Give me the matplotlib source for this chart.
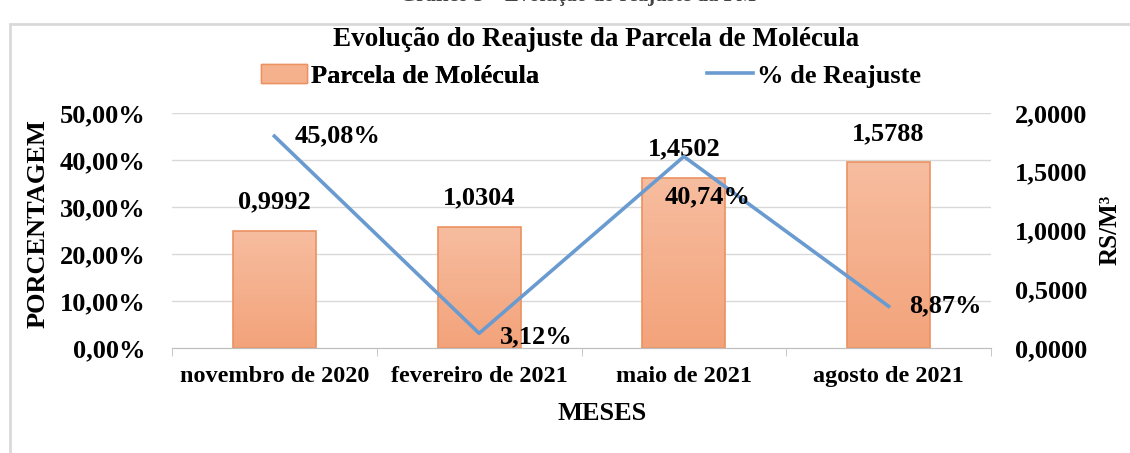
import matplotlib
matplotlib.use("Agg")
import matplotlib.pyplot as plt
import numpy as np
from matplotlib.patches import Rectangle
from matplotlib.lines import Line2D
from matplotlib.patches import Patch

categories = ["novembro de 2020", "fevereiro de 2021", "maio de 2021", "agosto de 2021"]
parcela = [0.9992, 1.0304, 1.4502, 1.5788]
reajuste = [45.08, 3.12, 40.74, 8.87]
parcela_labels = ["0,9992", "1,0304", "1,4502", "1,5788"]
reajuste_labels = ["45,08%", "3,12%", "40,74%", "8,87%"]
left_ticks = [0, 10, 20, 30, 40, 50]
left_ticklabels = ["0,00%", "10,00%", "20,00%", "30,00%", "40,00%", "50,00%"]
right_ticks = [0, 0.5, 1.0, 1.5, 2.0]
right_ticklabels = ["0,0000", "0,5000", "1,0000", "1,5000", "2,0000"]

FONT = "Liberation Serif"
plt.rcParams['font.family'] = [FONT, 'DejaVu Serif']
plt.rcParams['font.weight'] = 'bold'

FS_NUM = 19
FS_X = 17.5
FS_LAB = 19

W, H = 1130, 453
fig = plt.figure(figsize=(W / 100, H / 100), dpi=100)

def fx(px):
    return px / W

def fy(py):
    return 1 - py / H

# outer frame
fig.patches.append(Rectangle((fx(10), fy(460)), fx(1200), fy(24) - fy(460),
                             transform=fig.transFigure, fill=False,
                             edgecolor="#d9d9d9", linewidth=2))

ax = fig.add_axes([fx(172), fy(348), fx(991) - fx(172), fy(113) - fy(348)])
ax2 = ax.twinx()

x = np.arange(len(categories))
ax.set_xlim(-0.5, len(categories) - 0.5)
ax.set_ylim(0, 50)
ax2.set_ylim(0, 2.0)

# bars on secondary axis with gradient fill
bars = ax2.bar(x, parcela, width=0.405, color="none", edgecolor="#ec9160",
               linewidth=1.2, zorder=2)
grad = np.linspace(0, 1, 256).reshape(-1, 1)
top_c = np.array([247, 189, 160]) / 255
bot_c = np.array([243, 163, 122]) / 255
img = top_c[None, None, :] * (1 - grad[:, :, None]) + bot_c[None, None, :] * grad[:, :, None]
for b in bars:
    x0, w, h = b.get_x(), b.get_width(), b.get_height()
    im = ax2.imshow(img, extent=[x0, x0 + w, 0, h], origin="upper",
                    aspect="auto", zorder=1.5)
    im.set_clip_path(b)
ax2.set_xlim(-0.5, len(categories) - 0.5)
ax2.set_ylim(0, 2.0)

# line on primary axis, drawn above bars
ax.set_zorder(ax2.get_zorder() + 1)
ax.patch.set_visible(False)
ax.plot(x, reajuste, color="#6a9bd0", linewidth=2.6, zorder=3)

# gridlines
for t in left_ticks[1:]:
    ax2.axhline(t / 25.0, color="#d9d9d9", linewidth=1, zorder=0)

# labels for bars
for xi, v, lab in zip(x, parcela, parcela_labels):
    ax2.annotate(lab, (xi, v), xytext=(0, 29), textcoords="offset pixels",
                 ha="center", va="center", fontsize=FS_NUM, fontweight="bold")

# labels for line
offsets = [(20, 0), (21, -3), (24, -40), (21, 0)]
has = ["left", "left", "center", "left"]
for xi, v, lab, off, ha in zip(x, reajuste, reajuste_labels, offsets, has):
    ax.annotate(lab, (xi, v), xytext=off,
                textcoords="offset pixels", ha=ha, va="center",
                fontsize=FS_NUM, fontweight="bold", zorder=4)

ax.set_yticks(left_ticks)
ax.set_yticklabels(left_ticklabels, fontsize=FS_NUM, fontweight="bold")
ax2.set_yticks(right_ticks)
ax2.set_yticklabels(right_ticklabels, fontsize=FS_NUM, fontweight="bold")
ax.set_xticks(x)
ax.set_xticklabels(categories, fontsize=FS_X, fontweight="bold")
ax.set_xticks(np.arange(-0.5, len(categories)), minor=True)
ax.tick_params(axis="x", which="major", length=0, pad=13)
ax.tick_params(axis="x", which="minor", length=6, color="#bfbfbf")
ax.tick_params(axis="y", length=0, pad=19)
ax2.tick_params(axis="y", length=0, pad=17)
ax2.tick_params(axis="x", length=0)
for a in (ax, ax2):
    for s in ["top", "left", "right"]:
        a.spines[s].set_visible(False)
    a.spines["bottom"].set_color("#bfbfbf")

fig.text(fx(38), fy(224), "PORCENTAGEM", rotation=90, ha="center", va="center",
         fontsize=FS_LAB, fontweight="bold")
fig.text(fx(1110), fy(230), "RS/M³", rotation=90, ha="center", va="center",
         fontsize=FS_LAB - 1, fontweight="bold")
fig.text(fx(602), fy(413), "MESES", ha="center", va="center",
         fontsize=FS_LAB, fontweight="bold")
fig.text(fx(596), fy(40), "Evolução do Reajuste da Parcela de Molécula",
         ha="center", va="center", fontsize=19.5, fontweight="bold")
fig.text(fx(578), fy(-4), "Gráfico 5 – Evolução do reajuste da PM",
         ha="center", va="center", fontsize=15, fontweight="bold", color="#444444")

leg_kw = dict(frameon=False, borderpad=0, borderaxespad=0,
              prop={"family": FONT, "weight": "bold", "size": FS_LAB},
              handlelength=1.75, handletextpad=0.15, loc="center left")
leg1 = fig.legend([Patch(facecolor="#f5b08c", edgecolor="#ec9160")],
                  ["Parcela de Molécula"], bbox_to_anchor=(fx(261), fy(76)), **leg_kw)
fig.add_artist(leg1)
fig.legend([Line2D([0], [0], color="#6a9bd0", linewidth=2.6)],
           ["% de Reajuste"], bbox_to_anchor=(fx(707), fy(76)), **leg_kw)

fig.savefig("out.png", dpi=100)
